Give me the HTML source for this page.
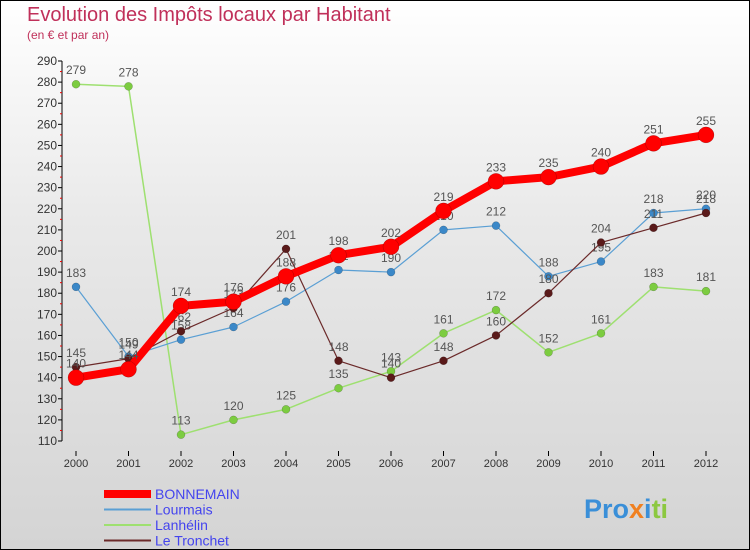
<!DOCTYPE html>
<html><head><meta charset="utf-8"><style>
body{margin:0}
#c{width:750px;height:550px;position:relative;box-sizing:border-box;border:1px solid #000;background:linear-gradient(#fff 0%,#e9e9e9 40%,#d4d4d4 100%);font-family:"Liberation Sans","DejaVu Sans",sans-serif;overflow:hidden}
.t{position:absolute;left:26px;top:3px;font-size:20px;color:#c0305a;letter-spacing:0px}
.s{position:absolute;left:26px;top:27px;font-size:12px;color:#c0305a}
</style></head><body>
<div id="c">
<div class="t">Evolution des Impôts locaux par Habitant</div>
<div class="s">(en € et par an)</div>
<svg id="svg" width="750" height="550" style="position:absolute;left:0;top:0;font-family:'Liberation Sans',sans-serif"></svg>
</div>
<script>
const years=["2000","2001","2002","2003","2004","2005","2006","2007","2008","2009","2010","2011","2012"];
const bonnemain=[140,144,174,176,188,198,202,219,233,235,240,251,255];
const lourmais=[183,150,158,164,176,191,190,210,212,188,195,218,220];
const lanhelin=[279,278,113,120,125,135,143,161,172,152,161,183,181];
const tronchet=[145,149,162,173,201,148,140,148,160,180,204,211,218];
const yTicks=[110,120,130,140,150,160,170,180,190,200,210,220,230,240,250,260,270,280,290];
const NS="http://www.w3.org/2000/svg";
const svg=document.getElementById('svg');
const X=i=>75+i*52.5;
const Y=v=>60+(290-v)*(380/180);
function mk(t,a,p){const e=document.createElementNS(NS,t);for(const k in a)e.setAttribute(k,a[k]);(p||svg).appendChild(e);return e;}
const ax=mk('g',{});


mk('line',{x1:61,y1:Y(290),x2:61,y2:Y(110),stroke:'#000'},ax);
yTicks.forEach((v,i)=>{
 mk('line',{x1:57,x2:61,y1:Y(v),y2:Y(v),stroke:'#000'},ax);
 if(i<yTicks.length-1)mk('line',{x1:59,x2:61,y1:Y(v+5),y2:Y(v+5),stroke:'#e00'},ax);
 const t=mk('text',{x:56,y:Y(v)+4,'text-anchor':'end','font-size':12,fill:'#333'},ax);t.textContent=v;
 
 
});
years.forEach((y,i)=>{
 mk('line',{x1:X(i),x2:X(i),y1:450,y2:455,stroke:'#000'},ax);
 const t=mk('text',{x:X(i),y:466,'text-anchor':'middle','font-size':11,fill:'#333'},ax);t.textContent=y;
 
 
});
function series(name,data,color,w,r,dot){
 const g=mk('g',{});
 
 
 mk('polyline',{points:data.map((v,i)=>X(i)+','+Y(v)).join(' '),fill:'none',stroke:color,'stroke-width':w,'stroke-linejoin':'round'},g);
 data.forEach((v,i)=>{
  const c=mk('circle',{cx:X(i),cy:Y(v),r:r,fill:dot,stroke:'rgba(0,0,0,0.3)','stroke-width':0.5},g);
  
  
  const t=mk('text',{x:X(i),y:Y(v)-10,'text-anchor':'middle','font-size':12,fill:'#555'},g);t.textContent=v;
  
  
 });
}
series('lanhelin',lanhelin,'#9ee070',1.5,4,'#7ccc40');
series('lourmais',lourmais,'#5a9fd4',1.2,4,'#3b88c8');
series('le-tronchet',tronchet,'#6b2a2a',1.2,4,'#5a1a1a');
series('bonnemain',bonnemain,'#ff0000',8,8,'#ff0000');
const leg=[['BONNEMAIN','#ff0000',8],['Lourmais','#5a9fd4',2],['Lanhélin','#9ee070',2],['Le Tronchet','#6b2a2a',2]];
leg.forEach((l,i)=>{
 const g=mk('g',{});
 
 
 const y=493+i*15.5;
 mk('line',{x1:103,x2:150,y1:y,y2:y,stroke:l[1],'stroke-width':l[2]},g);
 const t=mk('text',{x:154,y:y+5,'font-size':14,fill:'#4444ee'},g);t.textContent=l[0];
});
const lg=mk('text',{x:583,y:517,'font-size':27,'font-weight':'bold',fill:'#3a8fd8'});


lg.innerHTML='<tspan fill="#3a8fd8">Pro</tspan><tspan fill="#f08020">x</tspan><tspan fill="#3a8fd8">i</tspan><tspan fill="#8cc840">ti</tspan>';
</script>
</body></html>
